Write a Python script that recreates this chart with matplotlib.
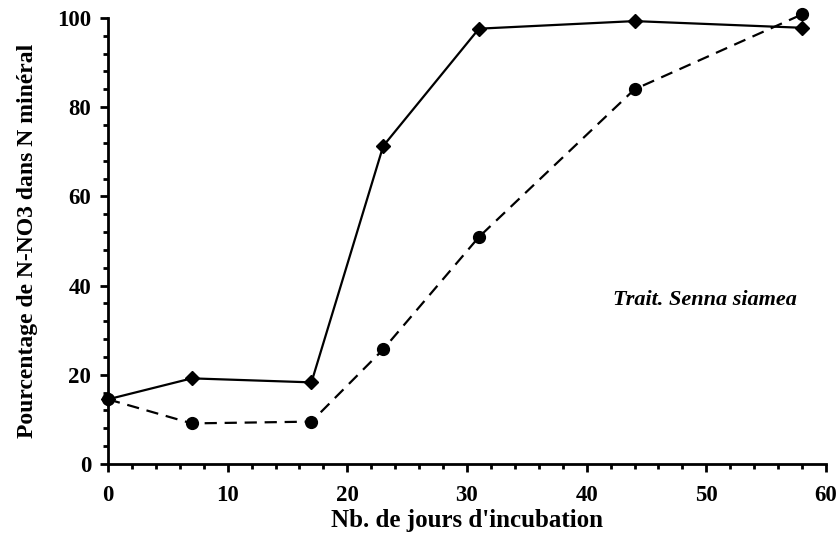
import matplotlib
matplotlib.use("Agg")
import matplotlib.pyplot as plt
from matplotlib.ticker import MultipleLocator

# days of incubation and % N-NO3 in mineral N
days = [0, 7, 17, 23, 31, 44, 58]
solid_vals = [14.5, 19.2, 18.3, 71.3, 97.6, 99.3, 97.8]
dashed_vals = [14.5, 9.1, 9.5, 25.7, 50.9, 84.0, 100.8]

plt.rcParams['font.family'] = ['Liberation Serif', 'DejaVu Serif']

fig = plt.figure(figsize=(8.4, 5.43), dpi=100)
ax = fig.add_axes([0.1286, 0.1455, 0.8547, 0.8214])

ax.plot(days, solid_vals, color='black', lw=1.6, marker='D', markersize=7,
        clip_on=False, zorder=3)
ax.plot(days, dashed_vals, color='black', lw=1.6, marker='o', markersize=8.5,
        dashes=[5.5, 3.5], clip_on=False, zorder=3)

ax.set_xlim(0, 60)
ax.set_ylim(0, 100)
ax.xaxis.set_major_locator(MultipleLocator(10))
ax.xaxis.set_minor_locator(MultipleLocator(2))
ax.yaxis.set_major_locator(MultipleLocator(20))
ax.yaxis.set_minor_locator(MultipleLocator(4))

for side in ['top', 'right']:
    ax.spines[side].set_visible(False)
for side in ['left', 'bottom']:
    ax.spines[side].set_linewidth(2)

ax.tick_params(which='major', direction='out', length=6, width=2,
               labelsize=16.5)
ax.tick_params(axis='x', which='major', pad=9)
ax.tick_params(axis='y', which='major', pad=6)
ax.tick_params(which='minor', direction='out', length=3.5, width=2)
for lab in ax.get_xticklabels() + ax.get_yticklabels():
    lab.set_fontweight('bold')

ax.set_xlabel("Nb. de jours d'incubation", fontsize=18, fontweight='bold',
              labelpad=2)
ax.set_ylabel("Pourcentage de N-NO3 dans N minéral", fontsize=17,
              fontweight='bold', labelpad=14)

ax.text(42.2, 36.8, "Trait. Senna siamea", fontsize=16, style='italic',
        fontweight='bold', ha='left', va='center')

fig.savefig('out.png', dpi=100)
